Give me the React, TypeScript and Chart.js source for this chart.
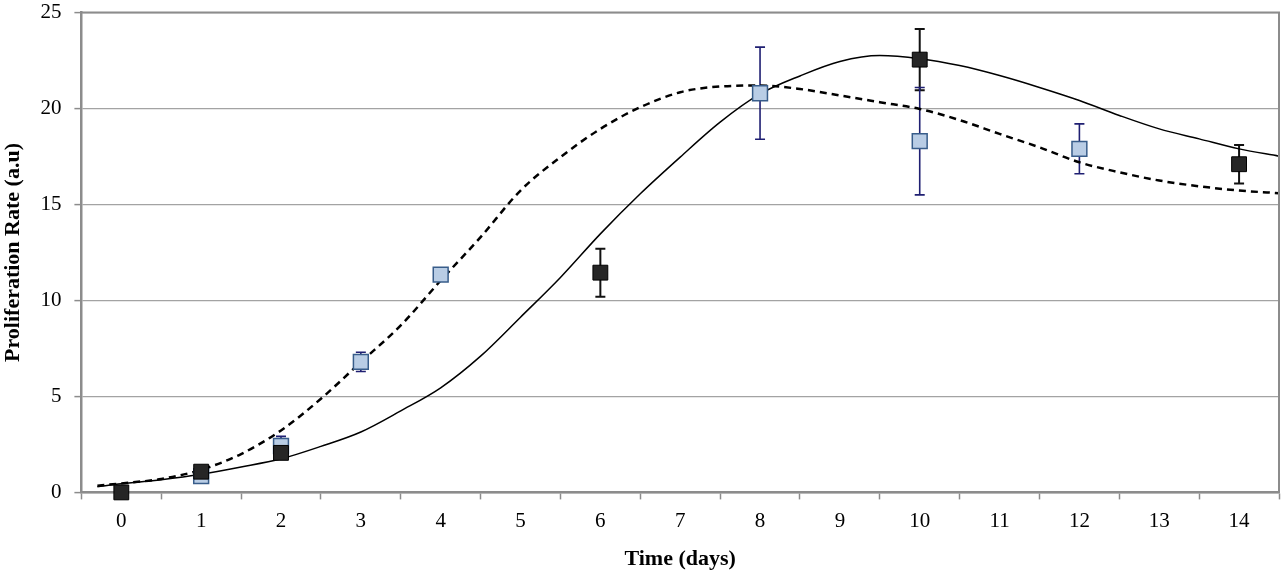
import { useEffect, useRef } from "react"
import { Chart, registerables } from "chart.js"

Chart.register(...registerables)

// measured points
const blackDays = [0, 1, 2, 6, 10, 14]
const blackRate = [0, 1.08, 2.06, 11.45, 22.55, 17.1]
const blackErr = [0, 0, 0, 1.25, 1.6, 1.0]

const blueDays = [1, 2, 3, 4, 8, 10, 12]
const blueRate = [0.85, 2.42, 6.8, 11.35, 20.8, 18.3, 17.9]
const blueErr = [0, 0.5, 0.5, 0, 2.4, 2.8, 1.3]

// fitted curves
const fitDays = [-0.3, 0, 0.5, 1, 1.5, 2, 2.5, 3, 3.5, 4, 4.5, 5, 5.5, 6, 6.5, 7, 7.5, 8, 8.5, 9, 9.5, 10, 10.5, 11, 11.5, 12, 12.5, 13, 13.5, 14, 14.5]
const solidFit = [0.3, 0.45, 0.66, 0.94, 1.32, 1.75, 2.4, 3.15, 4.25, 5.45, 7.1, 9.13, 11.2, 13.47, 15.56, 17.47, 19.29, 20.76, 21.7, 22.45, 22.76, 22.6, 22.24, 21.72, 21.1, 20.42, 19.64, 18.94, 18.42, 17.9, 17.52]
const dashedFit = [0.35, 0.47, 0.7, 1.18, 2.0, 3.23, 4.88, 6.79, 8.7, 11.04, 13.3, 15.73, 17.47, 18.94, 20.07, 20.85, 21.15, 21.2, 21.02, 20.68, 20.33, 19.98, 19.4, 18.68, 17.98, 17.2, 16.68, 16.25, 15.95, 15.73, 15.59]

const dayTicks = [0, 1, 2, 3, 4, 5, 6, 7, 8, 9, 10, 11, 12, 13, 14]
const rateTicks = [0, 5, 10, 15, 20, 25]

const AXIS_GRAY = "#8c8c8c"
const GRID_GRAY = "#a3a3a3"
const FONT = "'Liberation Serif', 'Times New Roman', serif"

// the canvas is a little larger than the window so the plot area lands where the original has it
const SHIFT_TOP = 13
const EXTRA_RIGHT = 10

const errorBars = [
  { dataset: 0, values: blackRate, err: blackErr, color: "#111111", width: 2 },
  { dataset: 1, values: blueRate, err: blueErr, color: "#1f1f72", width: 1.6 },
]

const errorBarPlugin = {
  id: "errorBars",
  beforeDatasetsDraw(chart: Chart) {
    const { ctx } = chart
    const yScale = chart.scales.y
    ctx.save()
    errorBars.forEach((set) => {
      const meta = chart.getDatasetMeta(set.dataset)
      meta.data.forEach((pt: any, i: number) => {
        const e = set.err[i]
        if (!e) return
        const v = set.values[i]
        const top = yScale.getPixelForValue(v + e)
        const bottom = yScale.getPixelForValue(v - e)
        ctx.strokeStyle = set.color
        ctx.lineWidth = set.width
        ctx.beginPath()
        ctx.moveTo(pt.x, top)
        ctx.lineTo(pt.x, bottom)
        ctx.moveTo(pt.x - 5, top)
        ctx.lineTo(pt.x + 5, top)
        ctx.moveTo(pt.x - 5, bottom)
        ctx.lineTo(pt.x + 5, bottom)
        ctx.stroke()
      })
    })
    ctx.restore()
  },
  afterDraw(chart: Chart) {
    const { ctx, chartArea } = chart
    ctx.save()
    ctx.strokeStyle = AXIS_GRAY
    ctx.lineWidth = 2
    ctx.beginPath()
    ctx.moveTo(chartArea.left, chartArea.top)
    ctx.lineTo(chartArea.right, chartArea.top)
    ctx.lineTo(chartArea.right, chartArea.bottom)
    ctx.stroke()
    ctx.restore()
  },
}

export default function App() {
  const chartRef = useRef<HTMLCanvasElement>(null)
  const chartInstance = useRef<Chart | null>(null)

  useEffect(() => {
    if (!chartRef.current) return
    if (chartInstance.current) chartInstance.current.destroy()
    const ctx = chartRef.current.getContext("2d")
    if (!ctx) return

    chartInstance.current = new Chart(ctx, {
      type: "scatter",
      data: {
        datasets: [
          {
            label: "Black",
            data: blackDays.map((d, i) => ({ x: d, y: blackRate[i] })),
            pointStyle: "rect",
            pointRadius: 10.5,
            pointBackgroundColor: "#262626",
            pointBorderColor: "#000000",
            pointBorderWidth: 1,
            showLine: false,
            clip: false,
          },
          {
            label: "Blue",
            data: blueDays.map((d, i) => ({ x: d, y: blueRate[i] })),
            pointStyle: "rect",
            pointRadius: 10.5,
            pointBackgroundColor: "#b9cde5",
            pointBorderColor: "#385d8a",
            pointBorderWidth: 1.5,
            showLine: false,
            clip: false,
          },
          {
            label: "Solid fit",
            data: fitDays.map((d, i) => ({ x: d, y: solidFit[i] })),
            showLine: true,
            pointRadius: 0,
            borderColor: "#000000",
            borderWidth: 1.5,
            cubicInterpolationMode: "monotone",
            tension: 0.4,
          },
          {
            label: "Dashed fit",
            data: fitDays.map((d, i) => ({ x: d, y: dashedFit[i] })),
            showLine: true,
            pointRadius: 0,
            borderColor: "#000000",
            borderWidth: 2.5,
            borderDash: [7, 5],
            cubicInterpolationMode: "monotone",
            tension: 0.4,
          },
        ],
      },
      options: {
        responsive: true,
        maintainAspectRatio: false,
        animation: false,
        layout: { padding: 0 },
        plugins: {
          legend: { display: false },
          tooltip: { enabled: false },
        },
        scales: {
          x: {
            type: "linear",
            min: -0.5,
            max: 14.5,
            afterBuildTicks: (axis: any) => {
              axis.ticks = dayTicks.map((v) => ({ value: v }))
            },
            grid: {
              offset: true,
              drawOnChartArea: false,
              drawTicks: true,
              tickLength: 7,
              tickColor: AXIS_GRAY,
              tickWidth: 1.5,
            },
            border: { color: AXIS_GRAY, width: 2.5 },
            ticks: {
              color: "#000",
              padding: 9,
              font: { family: FONT, size: 21 },
              maxRotation: 0,
              autoSkip: false,
            },
            title: {
              display: true,
              text: "Time (days)",
              color: "#000",
              padding: { top: 4, bottom: 0 },
              font: { family: FONT, size: 22, weight: "bold" },
            },
          },
          y: {
            min: 0,
            max: 25,
            afterBuildTicks: (axis: any) => {
              axis.ticks = rateTicks.map((v) => ({ value: v }))
            },
            grid: {
              color: GRID_GRAY,
              lineWidth: 1.2,
              tickLength: 7,
              tickColor: AXIS_GRAY,
              tickWidth: 1.5,
            },
            border: { color: AXIS_GRAY, width: 2.5 },
            ticks: {
              color: "#000",
              padding: 13,
              font: { family: FONT, size: 21 },
            },
            title: {
              display: true,
              text: "Proliferation Rate (a.u)",
              color: "#000",
              padding: { top: 0, bottom: 1 },
              font: { family: FONT, size: 22, weight: "bold" },
            },
          },
        },
      },
      plugins: [errorBarPlugin],
    })

    return () => {
      if (chartInstance.current) {
        chartInstance.current.destroy()
        chartInstance.current = null
      }
    }
  }, [])

  return (
    <div style={{ position: "fixed", left: 0, top: 0, width: 1281, height: 573, overflow: "hidden", background: "#fff" }}>
      <div style={{ position: "absolute", left: 0, top: -SHIFT_TOP, width: 1281 + EXTRA_RIGHT, height: 573 + SHIFT_TOP }}>
        <canvas ref={chartRef} />
      </div>
    </div>
  )
}
